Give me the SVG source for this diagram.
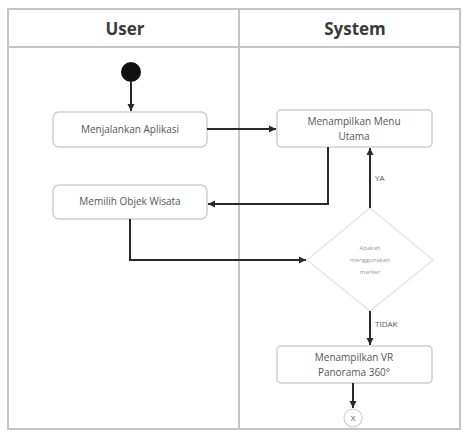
<svg xmlns="http://www.w3.org/2000/svg" width="464" height="440" viewBox="0 0 464 440">
<defs>
<style>
.frame{fill:none;stroke:#c4c4c4;stroke-width:2}
.box{fill:#fff;stroke:#cfcfcf;stroke-width:1.5}
.lbl{font-family:"Open Sans","Liberation Sans",sans-serif;font-size:10px;fill:#555;text-anchor:middle}
.hdr{font-family:"Open Sans","Liberation Sans",sans-serif;font-size:17px;font-weight:bold;fill:#3a3a3a;text-anchor:middle}
.small{font-family:"Open Sans","Liberation Sans",sans-serif;font-size:6px;fill:#999;text-anchor:middle}
.edge{fill:none;stroke:#2a2a2a;stroke-width:2}
.elbl{font-family:"Open Sans","Liberation Sans",sans-serif;font-size:8px;fill:#555}
</style>
<marker id="arr" markerWidth="8" markerHeight="8" refX="7" refY="4" orient="auto" markerUnits="userSpaceOnUse">
<path d="M0,0.5 L7,4 L0,7.5 z" fill="#2a2a2a"/>
</marker>
</defs>
<rect width="464" height="440" fill="#fff"/>
<g id="lanes">
<rect class="frame" x="8" y="9" width="452" height="420"/>
<line class="frame" x1="8" y1="47" x2="460" y2="47"/>
<line class="frame" x1="239" y1="9" x2="239" y2="429"/>
<text class="hdr" x="125" y="35">User</text>
<text class="hdr" x="355" y="35">System</text>
</g>
<g id="start"><circle cx="131" cy="72" r="10" fill="#111"/></g>
<g id="menjalankan">
<rect class="box" x="53" y="112" width="154" height="35" rx="6"/>
<text class="lbl" x="130" y="133">Menjalankan Aplikasi</text>
</g>
<g id="menu">
<rect class="box" x="277" y="110" width="155" height="37" rx="4"/>
<text class="lbl" x="354" y="125">Menampilkan Menu</text>
<text class="lbl" x="354" y="140">Utama</text>
</g>
<g id="memilih">
<rect class="box" x="53" y="185" width="154" height="34" rx="6"/>
<text class="lbl" x="130" y="205">Memilih Objek Wisata</text>
</g>
<g id="decision">
<polygon points="370,208 433,260 370,311 307,260" fill="#fff" stroke="#e6e6e6" stroke-width="1.5"/>
<text class="small" x="370" y="250">Apakah</text>
<text class="small" x="370" y="262">menggunakan</text>
<text class="small" x="370" y="274">marker</text>
</g>
<g id="vr">
<rect class="box" x="277" y="346" width="155" height="37" rx="4"/>
<text class="lbl" x="354" y="361">Menampilkan VR</text>
<text class="lbl" x="354" y="376">Panorama 360°</text>
</g>
<g id="end">
<circle cx="353" cy="418" r="9" fill="#fff" stroke="#cfcfcf" stroke-width="1.2"/>
<text class="lbl" x="353" y="421" style="font-size:8px">X</text>
</g>
<g id="connectors">
<path class="edge" d="M131,82 V111" marker-end="url(#arr)"/>
<path class="edge" d="M207,129 H276" marker-end="url(#arr)"/>
<path class="edge" d="M328,147 V204 H208" marker-end="url(#arr)"/>
<path class="edge" d="M130,219 V260 H306" marker-end="url(#arr)"/>
<path class="edge" d="M370,208 V148" marker-end="url(#arr)"/>
<path class="edge" d="M370,311 V345" marker-end="url(#arr)"/>
<path class="edge" d="M353,383 V408" marker-end="url(#arr)"/>
<text class="elbl" x="375" y="181">YA</text>
<text class="elbl" x="375" y="327">TIDAK</text>
</g>
</svg>
